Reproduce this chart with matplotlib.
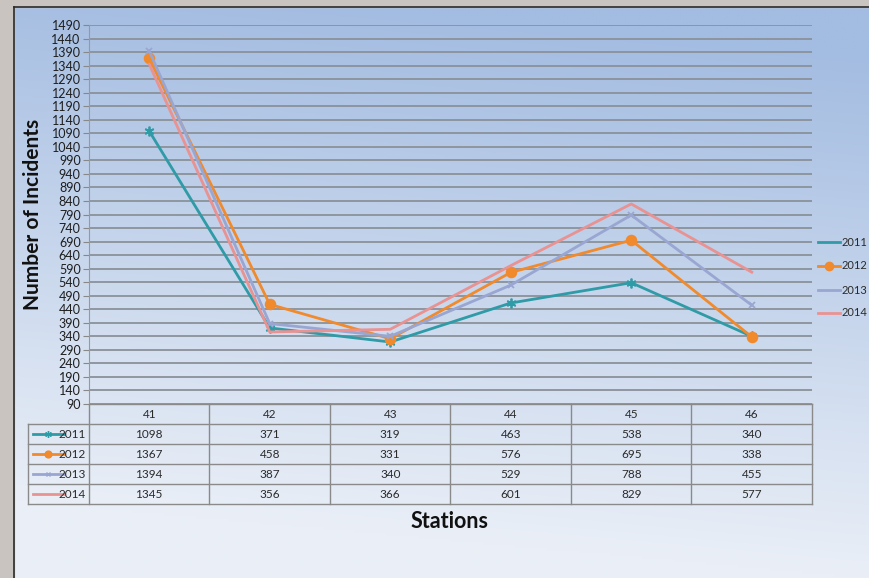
import numpy as np
import matplotlib
matplotlib.use("Agg")
import matplotlib.pyplot as plt
from matplotlib.lines import Line2D

stations = ["41", "42", "43", "44", "45", "46"]
years = ["2011", "2012", "2013", "2014"]
v2011 = [1098, 371, 319, 463, 538, 340]
v2012 = [1367, 458, 331, 576, 695, 338]
v2013 = [1394, 387, 340, 529, 788, 455]
v2014 = [1345, 356, 366, 601, 829, 577]
values = [v2011, v2012, v2013, v2014]
yticks = list(range(90, 1491, 50))

colors = ["#2f9ba6", "#f08a2c", "#9aa6d2", "#e99292"]
markers = [(6, 2, 0), "o", "x", None]
msizes = [7, 7, 5, 0]

plt.rcParams["font.family"] = ["Lato", "DejaVu Sans"]

W, H = 870, 578
fig = plt.figure(figsize=(W / 100, H / 100), dpi=100)

# background gradient + gray frame
bg = fig.add_axes([0, 0, 1, 1])
bg.set_axis_off()
yy, xx = np.mgrid[0:1:200j, 0:1:300j]
top = np.array([163, 188, 225]) / 255
bot = np.array([234, 239, 247]) / 255
t = np.clip(yy * 1.1 - 0.15 * xx + 0.05, 0, 1)[..., None]
img = top * (1 - t) + bot * t
bg.imshow(img, extent=[0, W, H, 0], aspect="auto")
bg.fill_between([0, 14], 0, H, color="#c9c4c0")
bg.fill_between([0, W], 0, 7, color="#c9c4c0")
bg.plot([14, 14], [7, H], color="#2b2b2b", lw=1.2)
bg.plot([14, W], [7, 7], color="#2b2b2b", lw=1.2)
bg.set_xlim(0, W)
bg.set_ylim(H, 0)

# plot area
x0, x1, ytop, ybot = 89, 812, 25, 404
ax = fig.add_axes([x0 / W, 1 - ybot / H, (x1 - x0) / W, (ybot - ytop) / H])
ax.patch.set_alpha(0)
xs = np.arange(len(stations)) + 0.5
for vals, c, m, ms in zip(values, colors, markers, msizes):
    ax.plot(xs, vals, color=c, lw=2, marker=m, ms=ms, mew=1.3, zorder=3)
ax.set_xlim(0, len(stations))
ax.set_ylim(90, 1490)
ax.set_yticks(yticks)
ax.tick_params(axis="y", labelsize=9, length=4, color="#888888", pad=2,
               labelcolor="#1e1e1e")
ax.tick_params(axis="x", bottom=False, labelbottom=False)
ax.grid(axis="y", color="#8a9199", lw=1.3)
for s in ["top", "right", "bottom"]:
    ax.spines[s].set_visible(False)
ax.spines["left"].set_color("#999999")
ax.set_ylabel("Number of Incidents", fontsize=15, fontweight="bold", color="#111111")
ax.yaxis.set_label_coords(-0.063, 0.5)

# data table
tb0, tb1 = 404, 504
tax = fig.add_axes([x0 / W, 1 - tb1 / H, (x1 - x0) / W, (tb1 - tb0) / H])
tax.set_axis_off()
tax.set_xlim(0, len(stations))
tax.set_ylim(5, 0)
lc = "#8a8a8a"
left = -61 / 120.5
tax.plot([0, 6], [0, 0], color=lc, lw=1, clip_on=False)
for r in range(1, 6):
    tax.plot([left, 6], [r, r], color=lc, lw=1, clip_on=False)
for c in range(7):
    tax.plot([c, c], [0, 5], color=lc, lw=1, clip_on=False)
tax.plot([left, left], [1, 5], color=lc, lw=1, clip_on=False)
tc = "#2a2a2a"
for i, s in enumerate(stations):
    tax.text(i + 0.5, 0.5, s, ha="center", va="center", fontsize=8.5, color=tc)
for r, (yr, vals, c, m, ms) in enumerate(zip(years, values, colors, markers, msizes)):
    tax.plot([left + 0.04, left + 0.3], [r + 1.5, r + 1.5], color=c, lw=2,
             clip_on=False)
    if m is not None:
        tax.plot([left + 0.17], [r + 1.5], color=c, marker=m, ms=ms * 0.7,
                 mew=1, clip_on=False)
    tax.text(-0.025, r + 1.5, yr, ha="right", va="center", fontsize=8.5, color=tc)
    for i, v in enumerate(vals):
        tax.text(i + 0.5, r + 1.5, str(v), ha="center", va="center",
                 fontsize=8.5, color=tc)

fig.text(450 / W, 1 - 521 / H, "Stations", ha="center", va="center",
         fontsize=15.5, fontweight="bold", color="#111111")

# legend at right
ly = [242, 266, 290, 313]
for yr, c, m, ms, y in zip(years, colors, markers, msizes, ly):
    fig.add_artist(Line2D([818 / W, 840 / W], [1 - y / H, 1 - y / H], color=c, lw=2))
    if m == "o":
        fig.add_artist(Line2D([829 / W], [1 - y / H], color=c, marker=m, ms=6))
    fig.text(842 / W, 1 - y / H, yr, ha="left", va="center", fontsize=8,
             color=tc)

fig.savefig("out.png", dpi=100)
